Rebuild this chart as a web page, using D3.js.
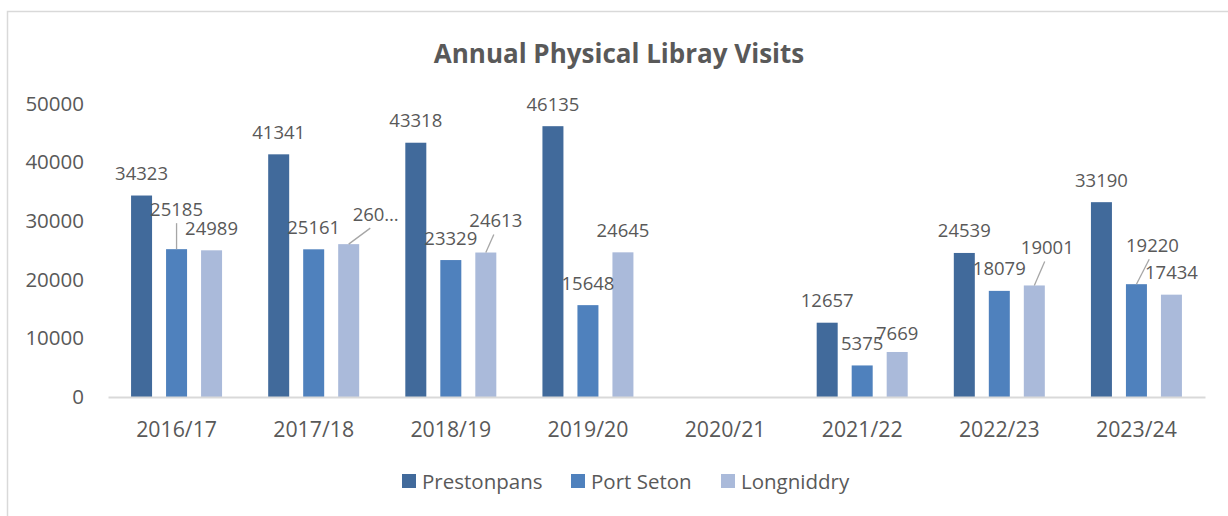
<!DOCTYPE html>
<html>
<head>
<meta charset="utf-8">
<script src="https://cdn.jsdelivr.net/npm/d3@7"></script>
<style>
  html, body { margin: 0; padding: 0; background: #fff; }
  svg { display: block; }
  text { font-family: "Open Sans", sans-serif; fill: #595959; }
</style>
</head>
<body>
<svg id="chart" width="1228" height="516"></svg>
<script>
// ---- data ----
const categories = ["2016/17", "2017/18", "2018/19", "2019/20", "2020/21", "2021/22", "2022/23", "2023/24"];
const seriesNames = ["Prestonpans", "Port Seton", "Longniddry"];
const prestonpans = [34323, 41341, 43318, 46135, null, 12657, 24539, 33190];
const portSeton   = [25185, 25161, 23329, 15648, null, 5375, 18079, 19220];
const longniddry  = [24989, 26040, 24613, 24645, null, 7669, 19001, 17434];
const yTicks = [0, 10000, 20000, 30000, 40000, 50000];
const titleText = "Annual Physical Libray Visits";

// labels shown truncated in the original
const labelTextOverride = { "2017/18|Longniddry": "260…" };
// manually moved data labels (with leader lines)
const labelMoves = {
  "2016/17|Port Seton": [0, -18],
  "2017/18|Longniddry": [27, -8],
  "2018/19|Longniddry": [10, -10],
  "2021/22|Longniddry": [0, 4],
  "2022/23|Longniddry": [13, -16],
  "2023/24|Port Seton": [16, -17]
};

const colors = ["#416a9b", "#4f81bd", "#aabada"];
const seriesValues = [prestonpans, portSeton, longniddry];

const svg = d3.select("#chart");

// chart border
svg.append("rect")
  .attr("x", 7.5).attr("y", 11.5)
  .attr("width", 1300).attr("height", 600)
  .attr("fill", "none").attr("stroke", "#d9d9d9").attr("stroke-width", 1.5);

// title
svg.append("text")
  .attr("x", 619).attr("y", 53)
  .attr("text-anchor", "middle").attr("dominant-baseline", "central")
  .style("font-weight", "bold").style("font-size", "26px")
  .text(titleText);

const plotLeft = 108, plotRight = 1205, y0 = 397, yTop = 103.5;

const x = d3.scaleBand().domain(categories).range([plotLeft, plotRight]).paddingInner(0).paddingOuter(0);
const pi = 0.4;
const po = (x.bandwidth() / 35 - 3 + pi) / 2;
const xs = d3.scaleBand().domain(seriesNames).range([0, x.bandwidth()]).paddingInner(pi).paddingOuter(po);
const y = d3.scaleLinear().domain([0, 50000]).range([y0, yTop]);

// y axis labels
const yAxis = d3.axisLeft(y).tickValues(yTicks).tickSize(0).tickPadding(0).tickFormat(d3.format("d"));
const yg = svg.append("g").attr("transform", `translate(84,0)`).call(yAxis);
yg.select(".domain").remove();
yg.selectAll("text").style("font-size", "20.5px").attr("fill", "#595959").style("font-family", '"Open Sans", sans-serif');

// bars
const flat = [];
categories.forEach((c, i) => {
  seriesNames.forEach((s, j) => {
    const v = seriesValues[j][i];
    if (v != null) flat.push({ cat: c, series: s, j, value: v });
  });
});

svg.append("g").selectAll("rect").data(flat).join("rect")
  .attr("x", d => x(d.cat) + xs(d.series))
  .attr("width", xs.bandwidth())
  .attr("y", d => y(d.value))
  .attr("height", d => y0 - y(d.value))
  .attr("fill", d => colors[d.j]);

// x axis
const xAxis = d3.axisBottom(x).tickSize(0).tickPadding(0);
const xg = svg.append("g").attr("transform", `translate(0,${y0})`).call(xAxis);
xg.select(".domain").attr("stroke", "#d9d9d9").attr("stroke-width", 2);
xg.selectAll("text").style("font-size", "21.3px").attr("fill", "#595959")
  .style("font-family", '"Open Sans", sans-serif')
  .attr("dy", null).attr("y", 31).attr("dominant-baseline", "central");

// data labels
const fmt = d3.format("d");
const lblG = svg.append("g");
flat.forEach(d => {
  const key = d.cat + "|" + d.series;
  const bx = x(d.cat) + xs(d.series) + xs.bandwidth() / 2;
  const by = y(d.value);
  const mv = labelMoves[key] || [0, 0];
  const lx = bx + mv[0], ly = by - 23 + mv[1];
  if (labelMoves[key] && (Math.abs(mv[0]) > 5 || mv[1] < -5)) {
    lblG.append("line")
      .attr("x1", lx - mv[0] * 0.2).attr("y1", ly + 15)
      .attr("x2", bx).attr("y2", by)
      .attr("stroke", "#a6a6a6").attr("stroke-width", 1.3);
  }
  lblG.append("text")
    .attr("x", lx).attr("y", ly)
    .attr("text-anchor", "middle").attr("dominant-baseline", "central")
    .style("font-size", "18.5px")
    .text(labelTextOverride[key] || fmt(d.value));
});

// legend
const legendItems = [
  { name: seriesNames[0], sx: 402, tx: 422 },
  { name: seriesNames[1], sx: 571, tx: 591 },
  { name: seriesNames[2], sx: 721, tx: 741 }
];
const lg = svg.append("g");
legendItems.forEach((it, i) => {
  lg.append("rect").attr("x", it.sx).attr("y", 474).attr("width", 14).attr("height", 14).attr("fill", colors[i]);
  lg.append("text").attr("x", it.tx).attr("y", 481).attr("dominant-baseline", "central")
    .style("font-size", "20.5px").text(it.name);
});
</script>
</body>
</html>
